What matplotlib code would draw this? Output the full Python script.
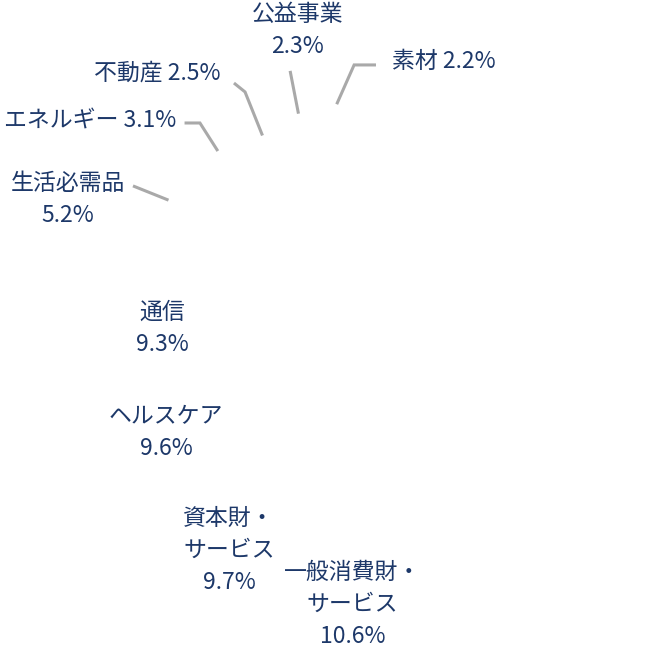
import numpy as np
import matplotlib
matplotlib.use('Agg')
import matplotlib.pyplot as plt

plt.rcParams['font.family'] = ['Noto Sans CJK JP', 'DejaVu Sans']

# ── Data ─────────────────────────────────────────────────────────────────────
SECTORS = ['素材', '公益事業', '不動産', 'エネルギー', '生活必需品',
           '通信', 'ヘルスケア', '資本財・\nサービス', '一般消費財・\nサービス']
SHARES = [2.2, 2.3, 2.5, 3.1, 5.2, 9.3, 9.6, 9.7, 10.6]
# remaining sectors carry no visible label in the reference
OTHER = round(100 - sum(SHARES), 1)

TEXT_C = '#1d3869'
LINE_C = '#a9a9a9'
FS = 16.5
LS = 1.5

# ── Layout (pie centre in px, radius in px; label layout in radius units) ──
W = H = 650
CX, CY, R = 356, 383, 270

# outer labels: (label format, start radius, text anchor, ha, elbow, tail end)
OUTER = {
    0: ('{n} {v}%',  1.035, (0.133, 1.192), 'left',   (-0.007, 1.178), (0.074, 1.178)),
    1: ('{n}\n{v}%', 1.02,  (-0.215, 1.305), 'center', None,            (-0.244, 1.156)),
    2: ('{n} {v}%',  0.98,  (-0.500, 1.148), 'right',  (-0.411, 1.078), (-0.452, 1.111)),
    3: ('{n} {v}%',  1.0,   (-0.667, 0.974), 'right',  (-0.578, 0.963), (-0.635, 0.963)),
    4: ('{n}\n{v}%', 0.97,  (-1.067, 0.678), 'center', None,            (-0.826, 0.730)),
}
# inner labels: (radius, angle nudge in degrees) from the wedge mid-angle
INNER = {5: (0.747, 2.4), 6: (0.727, -1.35), 7: (0.777, 2.2), 8: (0.819, 1.95)}

fig = plt.figure(figsize=(W / 100, H / 100), dpi=100)
ax = fig.add_axes([0, 0, 1, 1])

wedges, _ = ax.pie(SHARES + [OTHER], startangle=90, counterclock=True,
                   radius=1.0,
                   wedgeprops=dict(facecolor='white', edgecolor='white',
                                   linewidth=0))

ax.set_xlim(-CX / R, (W - CX) / R)
ax.set_ylim(-(H - CY) / R, CY / R)
ax.set_aspect('equal')
ax.axis('off')

for i, (name, val) in enumerate(zip(SECTORS, SHARES)):
    w = wedges[i]
    mid = (w.theta1 + w.theta2) / 2
    if i in INNER:
        r, nudge = INNER[i]
        a = np.deg2rad(mid + nudge)
        ax.text(r * np.cos(a), r * np.sin(a), f'{name}\n{val}%',
                ha='center', va='center', multialignment='center',
                fontsize=FS, color=TEXT_C, linespacing=LS)
    else:
        fmt, r0, pos, ha, elbow, end = OUTER[i]
        a = np.deg2rad(mid)
        start = (r0 * np.cos(a), r0 * np.sin(a))
        pts = [start] + ([elbow] if elbow else []) + [end]
        xs, ys = zip(*pts)
        ax.plot(xs, ys, color=LINE_C, lw=2.2, solid_capstyle='butt',
                solid_joinstyle='miter')
        ax.text(pos[0], pos[1], fmt.format(n=name, v=val),
                ha=ha, va='center', multialignment='center',
                fontsize=FS, color=TEXT_C, linespacing=LS)

fig.savefig('out.png', dpi=100, facecolor='white')
